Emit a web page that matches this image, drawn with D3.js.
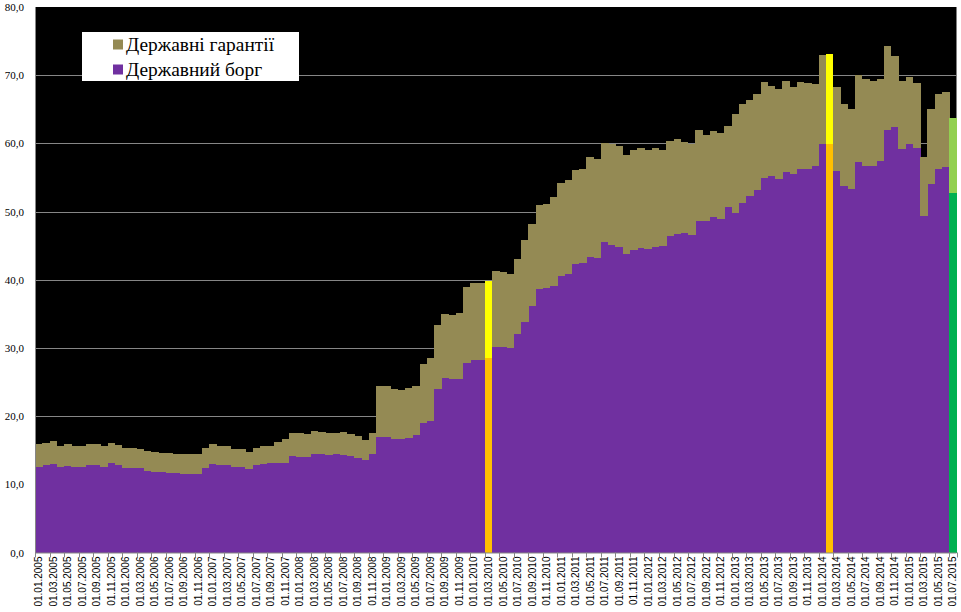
<!DOCTYPE html>
<html>
<head>
<meta charset="utf-8">
<script src="https://cdn.jsdelivr.net/npm/d3@7"></script>
<style>
  html, body { margin: 0; padding: 0; background: #ffffff; }
  svg { display: block; }
</style>
</head>
<body>
<svg id="chart" width="961" height="612"></svg>
<script>
// ---------- DATA ----------
const categories = [
  "01.01.2005","01.02.2005","01.03.2005","01.04.2005","01.05.2005","01.06.2005","01.07.2005","01.08.2005","01.09.2005","01.10.2005","01.11.2005","01.12.2005",
  "01.01.2006","01.02.2006","01.03.2006","01.04.2006","01.05.2006","01.06.2006","01.07.2006","01.08.2006","01.09.2006","01.10.2006","01.11.2006","01.12.2006",
  "01.01.2007","01.02.2007","01.03.2007","01.04.2007","01.05.2007","01.06.2007","01.07.2007","01.08.2007","01.09.2007","01.10.2007","01.11.2007","01.12.2007",
  "01.01.2008","01.02.2008","01.03.2008","01.04.2008","01.05.2008","01.06.2008","01.07.2008","01.08.2008","01.09.2008","01.10.2008","01.11.2008","01.12.2008",
  "01.01.2009","01.02.2009","01.03.2009","01.04.2009","01.05.2009","01.06.2009","01.07.2009","01.08.2009","01.09.2009","01.10.2009","01.11.2009","01.12.2009",
  "01.01.2010","01.02.2010","01.03.2010","01.04.2010","01.05.2010","01.06.2010","01.07.2010","01.08.2010","01.09.2010","01.10.2010","01.11.2010","01.12.2010",
  "01.01.2011","01.02.2011","01.03.2011","01.04.2011","01.05.2011","01.06.2011","01.07.2011","01.08.2011","01.09.2011","01.10.2011","01.11.2011","01.12.2011",
  "01.01.2012","01.02.2012","01.03.2012","01.04.2012","01.05.2012","01.06.2012","01.07.2012","01.08.2012","01.09.2012","01.10.2012","01.11.2012","01.12.2012",
  "01.01.2013","01.02.2013","01.03.2013","01.04.2013","01.05.2013","01.06.2013","01.07.2013","01.08.2013","01.09.2013","01.10.2013","01.11.2013","01.12.2013",
  "01.01.2014","01.02.2014","01.03.2014","01.04.2014","01.05.2014","01.06.2014","01.07.2014","01.08.2014","01.09.2014","01.10.2014","01.11.2014","01.12.2014",
  "01.01.2015","01.02.2015","01.03.2015","01.04.2015","01.05.2015","01.06.2015","01.07.2015"
];

// Державний борг (state debt)
const debt = [
  12.5,12.8,13.0,12.5,12.7,12.5,12.5,12.8,12.8,12.5,13.1,12.8,
  12.4,12.4,12.4,12.0,11.8,11.8,11.7,11.7,11.5,11.5,11.5,12.4,
  13.0,12.8,12.8,12.5,12.5,12.2,12.8,13.0,13.1,13.1,13.1,14.2,
  14.0,14.0,14.4,14.4,14.3,14.4,14.3,14.2,13.9,13.5,14.4,16.9,
  16.9,16.6,16.6,16.8,17.2,19.0,19.3,24.0,25.6,25.4,25.4,27.8,
  28.2,28.2,28.5,30.1,30.1,30.0,32.0,33.8,36.1,38.6,38.8,39.1,
  40.5,40.8,42.3,42.5,43.3,43.2,45.5,45.1,44.8,43.8,44.4,44.7,
  44.5,44.8,44.9,46.4,46.7,46.9,46.6,48.6,48.6,49.2,48.9,50.7,
  49.8,51.3,52.3,53.2,54.9,55.2,54.8,55.8,55.5,56.2,56.2,56.7,
  59.9,59.9,55.9,53.7,53.3,57.3,56.7,56.7,57.4,62.0,62.4,59.2,
  59.9,59.3,49.3,54.0,56.2,56.5,52.7
];

// Державні гарантії (state guarantees)
const guarantees = [
  3.4,3.3,3.4,3.1,3.2,3.1,3.1,3.1,3.1,3.1,3.0,3.0,
  2.9,2.9,2.8,2.9,2.9,2.8,2.9,2.7,2.9,2.9,2.9,2.9,
  2.9,2.8,2.8,2.7,2.7,2.5,2.5,2.6,2.5,3.1,3.5,3.3,
  3.5,3.4,3.4,3.3,3.2,3.1,3.4,3.2,3.2,3.0,3.1,7.5,
  7.5,7.4,7.2,7.3,7.2,8.6,9.2,9.4,9.4,9.4,9.7,11.1,
  11.3,11.3,11.3,11.2,11.0,10.8,11.0,12.0,12.1,12.4,12.3,13.0,
  13.7,13.8,13.8,13.7,14.7,14.5,14.5,14.8,14.8,14.5,14.6,14.6,
  14.5,14.5,14.1,13.9,13.9,13.3,13.3,13.4,12.6,12.6,12.6,11.8,
  14.5,14.5,14.1,14.0,14.1,13.2,13.2,13.3,12.8,12.8,12.6,12.0,
  13.1,13.2,12.4,12.1,11.7,12.7,12.7,12.4,12.0,12.3,10.4,9.9,
  9.8,9.5,8.7,11.0,11.0,11.0,11.0
];

const seriesNames = ["Державні гарантії", "Державний борг"];
const yTicks = [0, 10, 20, 30, 40, 50, 60, 70, 80];

// highlighted months: [category, debt colour, guarantee colour]
const highlights = [
  ["01.03.2010", "#FFC000", "#FFFF00"],
  ["01.02.2014", "#FFC000", "#FFFF00"],
  ["01.07.2015", "#00B050", "#92D050"]
];

// ---------- DRAWING ----------
const colDebt = "#7030A0";
const colGuar = "#948A54";
const svg = d3.select("#chart");

const plot = { left: 35, right: 956.5, top: 7, bottom: 552.5 };

const x = d3.scaleBand().domain(categories).range([plot.left, plot.right]).padding(0);
const y = d3.scaleLinear().domain([0, 80]).range([plot.bottom, plot.top]);

// plot background
svg.append("rect")
  .attr("x", plot.left).attr("y", y(80))
  .attr("width", plot.right - plot.left).attr("height", y(0) - y(80))
  .attr("fill", "#000000");

// gridlines
svg.append("g").selectAll("line")
  .data(yTicks.filter(d => d > 0 && d < 80))
  .join("line")
  .attr("x1", plot.left).attr("x2", plot.right)
  .attr("y1", d => Math.round(y(d)) + 0.5).attr("y2", d => Math.round(y(d)) + 0.5)
  .attr("stroke", "#868686").attr("stroke-width", 1);

const hlMap = new Map(highlights.map(h => [h[0], h]));
const rows = categories.map((c, i) => ({ c, debt: debt[i], guar: guarantees[i] }));

const stack = d3.stack().keys(["debt", "guar"]);
const stacked = stack(rows);

const barsG = svg.append("g").attr("shape-rendering", "crispEdges");
stacked.forEach((layer, li) => {
  barsG.append("g").selectAll("rect")
    .data(layer)
    .join("rect")
    .attr("x", d => x(d.data.c))
    .attr("width", x.bandwidth() + 0.3)
    .attr("y", d => y(d[1]))
    .attr("height", d => y(d[0]) - y(d[1]))
    .attr("fill", d => {
      const h = hlMap.get(d.data.c);
      if (h) return li === 0 ? h[1] : h[2];
      return li === 0 ? colDebt : colGuar;
    });
});

// y axis
const yAxis = d3.axisLeft(y).tickValues(yTicks).tickSize(0).tickPadding(11)
  .tickFormat(d => d3.format(".1f")(d).replace(".", ","));
const yg = svg.append("g").attr("transform", `translate(${plot.left},0)`).call(yAxis);
yg.select(".domain").remove();
yg.selectAll("text")
  .attr("font-family", "'Times New Roman', 'Liberation Serif', serif")
  .attr("font-size", 11).attr("fill", "#000");

svg.append("line")
  .attr("x1", plot.left + 0.5).attr("x2", plot.left + 0.5)
  .attr("y1", y(80)).attr("y2", plot.bottom)
  .attr("stroke", "#868686");

// x axis
const labelCats = categories.filter((c, i) => i % 2 === 0);
const xAxis = d3.axisBottom(x).tickValues(labelCats).tickSize(0).tickPadding(0);
const xg = svg.append("g").attr("transform", `translate(0,${plot.bottom})`).call(xAxis);
xg.select(".domain").remove();
xg.selectAll("text")
  .attr("font-family", "Arial, 'Liberation Sans', sans-serif")
  .attr("font-size", 10).attr("fill", "#000")
  .attr("transform", "rotate(-90)")
  .attr("text-anchor", "end")
  .attr("x", -4).attr("y", 0).attr("dy", "0.35em");

svg.append("line")
  .attr("x1", plot.left).attr("x2", plot.right)
  .attr("y1", plot.bottom + 0.5).attr("y2", plot.bottom + 0.5)
  .attr("stroke", "#868686");

svg.append("g").selectAll("line")
  .data(labelCats.concat(["end"]))
  .join("line")
  .attr("x1", d => Math.round(d === "end" ? plot.right : x(d)) + 0.5)
  .attr("x2", d => Math.round(d === "end" ? plot.right : x(d)) + 0.5)
  .attr("y1", plot.bottom).attr("y2", plot.bottom + 5)
  .attr("stroke", "#868686");

// legend
const lg = svg.append("g");
lg.append("rect").attr("x", 82).attr("y", 32).attr("width", 217).attr("height", 49).attr("fill", "#ffffff");
const legendItems = [
  { name: seriesNames[0], color: colGuar, y: 44.5 },
  { name: seriesNames[1], color: colDebt, y: 69.5 }
];
legendItems.forEach(it => {
  lg.append("rect").attr("x", 113).attr("y", it.y - 5).attr("width", 10).attr("height", 10).attr("fill", it.color);
  lg.append("text").attr("x", 126).attr("y", it.y + 6.5)
    .attr("font-family", "'Times New Roman', 'Liberation Serif', serif")
    .attr("font-size", 19.4).attr("fill", "#000")
    .text(it.name);
});
</script>
</body>
</html>
